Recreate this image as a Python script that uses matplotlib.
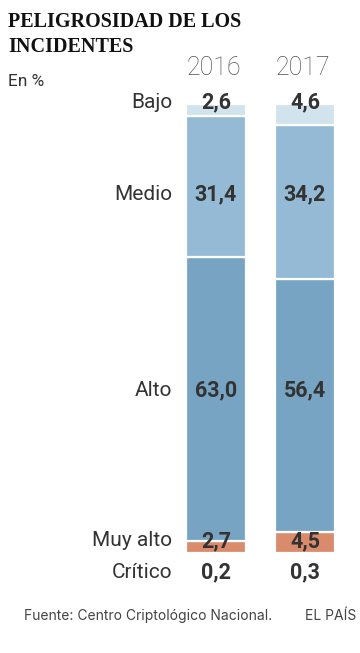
import matplotlib
matplotlib.use("Agg")
import matplotlib.pyplot as plt

YEARS      = ["2016", "2017"]
CATEGORIES = ["Crítico", "Muy alto", "Alto", "Medio", "Bajo"]   # bottom -> top
VALUES = {
    "2016": [0.2, 2.7, 63.0, 31.4, 2.6],
    "2017": [0.3, 4.5, 56.4, 34.2, 4.6],
}
LABELS = {
    "2016": ["0,2", "2,7", "63,0", "31,4", "2,6"],
    "2017": ["0,3", "4,5", "56,4", "34,2", "4,6"],
}

COLORS   = ["#b8563a", "#d98b6c", "#78a4c3", "#94bad6", "#d1e4ed"]
ROW_Y    = [-4.0, 2.9, 36.4, 80.0, 100.4]   # label rows, in data units
TEXT     = "#333333"
FONT     = "Roboto"


def main() -> None:
    fig = plt.figure(figsize=(3.6, 6.53), dpi=100)
    fig.patch.set_facecolor("white")

    # axes placed so that bars sit where the reference has them
    ax = fig.add_axes([186 / 360, (653 - 554) / 653, 149 / 360, 450 / 653])
    ax.set_xlim(-0.337, 1.337)
    ax.set_ylim(0, 100)
    ax.axis("off")

    for i, yr in enumerate(YEARS):
        bottom = 0
        for val, col in zip(VALUES[yr], COLORS):
            ax.bar(i, val, bottom=bottom, width=0.674, color=col,
                   edgecolor="white", linewidth=1.6, clip_on=False)
            bottom += val
        ax.text(i - 0.02, 107.9, yr, ha="center", va="center", fontsize=18,
                color="#505050", family=FONT, fontweight="light")
        for lab, ry in zip(LABELS[yr], ROW_Y):
            ax.text(i, ry, lab, ha="center", va="center", fontsize=15.5,
                    color=TEXT, family=FONT, fontweight="bold", clip_on=False)

    for cat, ry in zip(CATEGORIES, ROW_Y):
        ax.text(-0.49, ry, cat, ha="right", va="center", fontsize=15,
                color=TEXT, family=FONT, transform=ax.transData)

    fig.text(8 / 360, 1 - 27 / 653, "PELIGROSIDAD DE LOS",
             ha="left", va="baseline", fontsize=14.5, fontweight="bold",
             family="Liberation Serif", color="#111111")
    fig.text(8 / 360, 1 - 52 / 653, "INCIDENTES",
             ha="left", va="baseline", fontsize=14.5, fontweight="bold",
             family="Liberation Serif", color="#111111")
    fig.text(8 / 360, 1 - 82 / 653, "En %", ha="left", va="center",
             fontsize=12.5, color=TEXT, family=FONT)
    fig.text(24 / 360, 1 - 616 / 653, "Fuente: Centro Criptológico Nacional.",
             ha="left", va="center", fontsize=10, color="#444444", family="Inter")
    fig.text(356 / 360, 1 - 616 / 653, "EL PAÍS", ha="right", va="center",
             fontsize=10, color="#444444", family="Inter")

    fig.savefig("out.png", dpi=100, facecolor="white")
    plt.close(fig)


if __name__ == "__main__":
    main()
